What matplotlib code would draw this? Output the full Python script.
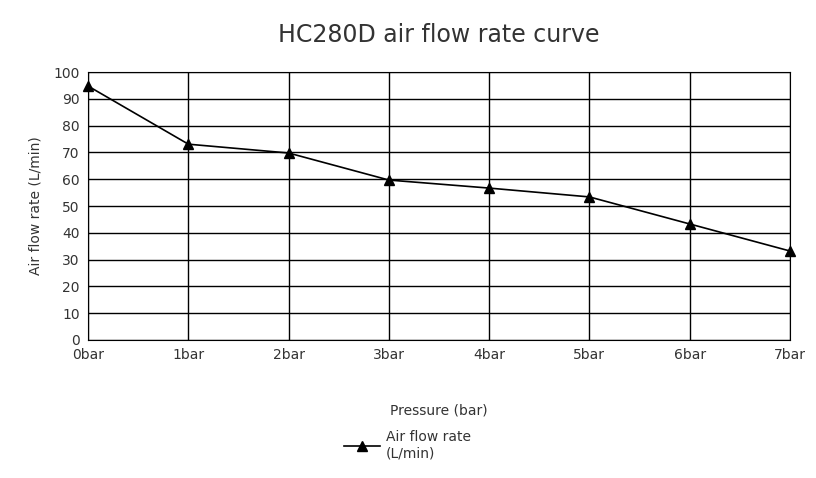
import matplotlib.pyplot as plt

# Step 1: Chart values
pressure = [0, 1, 2, 3, 4, 5, 6, 7]
tick_labels = ['0bar', '1bar', '2bar', '3bar', '4bar', '5bar', '6bar', '7bar']
flow = [94.8, 73.1, 69.8, 59.7, 56.7, 53.4, 43.3, 33.2]

# Step 2: Plotting the curve
plt.figure(figsize=(8.16, 4.78), dpi=100)
plt.axes([0.108, 0.289, 0.86, 0.56])
plt.plot(pressure, flow, color='black', marker='^', markersize=7, linewidth=1.2,
         label='Air flow rate\n(L/min)', clip_on=False, zorder=3)

plt.xlim(0, 7)
plt.ylim(0, 100)
plt.xticks(pressure, tick_labels, fontsize=10, color='#333333')
plt.yticks(range(0, 101, 10), fontsize=10, color='#333333')
plt.tick_params(length=0, pad=6)
plt.grid(color='black', linewidth=1)
for s in plt.gca().spines.values():
    s.set_color('black')

plt.title('HC280D air flow rate curve', fontsize=17, color='#333333', pad=22)
plt.xlabel('Pressure (bar)', fontsize=10, color='#333333', labelpad=30)
plt.ylabel('Air flow rate (L/min)', fontsize=10, color='#333333', labelpad=8)
plt.legend(loc='upper center', bbox_to_anchor=(0.455, -0.29), frameon=False,
           fontsize=10, handlelength=2.6, handletextpad=0.4, labelcolor='#333333')
plt.savefig('out.png')
